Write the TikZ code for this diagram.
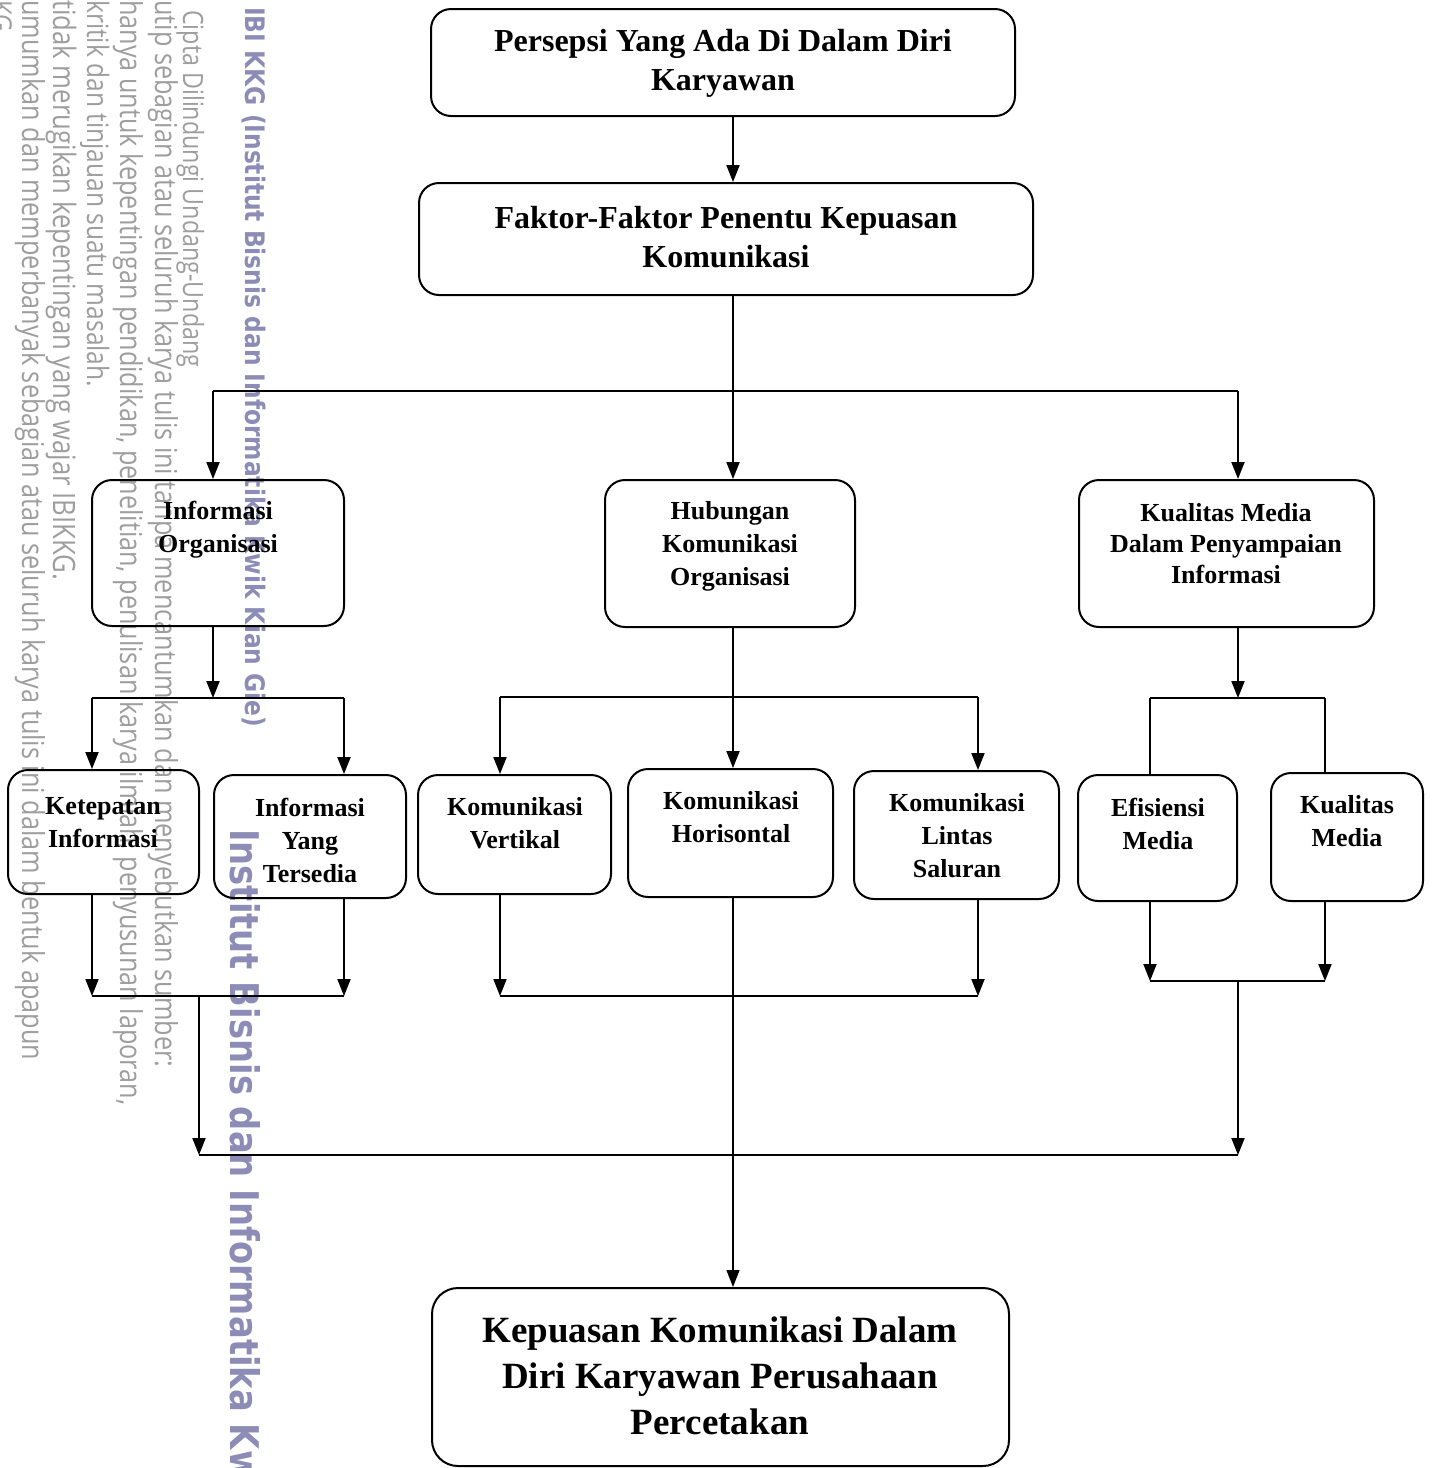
\documentclass[tikz,border=0pt]{standalone}
\usepackage{fontspec}
\setmainfont{Liberation Serif}
\newfontfamily\wmfont{Open Sans}
\newfontfamily\wmbfont{DejaVu Sans}
\usetikzlibrary{arrows.meta,calc}
\definecolor{wmgray}{RGB}{158,158,158}
\definecolor{wmblue}{RGB}{140,140,182}
\begin{document}
\begin{tikzpicture}[x=1pt,y=-1pt,
  box/.style={draw, line width=2pt, rounded corners=20pt, inner sep=0pt},
  lblA/.style={align=center, inner sep=0pt, font=\bfseries\fontsize{32}{39}\selectfont},
  lblB/.style={align=center, inner sep=0pt, font=\bfseries\fontsize{26}{33}\selectfont},
  lblC/.style={align=center, inner sep=0pt, font=\bfseries\fontsize{26}{31}\selectfont},
  lblD/.style={align=center, inner sep=0pt, font=\bfseries\fontsize{37}{46}\selectfont},
  conn/.style={line width=2pt},
  arr/.style={conn, -{Triangle[length=17pt,width=13pt]}},
  thinarr/.style={line width=1.2pt, -{Triangle[length=17pt,width=13pt]}},
  wm/.style={rotate=-90, anchor=base west, inner sep=0pt, text=wmgray, font=\wmfont\fontsize{24}{28}\selectfont},
  wmb/.style={rotate=-90, anchor=base west, inner sep=0pt, text=wmblue, font=\wmbfont\bfseries\fontsize{24}{28}\selectfont}
]
\useasboundingbox (0,0) rectangle (1432,1468);
\fill[white] (0,0) rectangle (1432,1468);
\clip (0,0) rectangle (1432,1468);

% watermark
\node[wmb] (w0) at (245,7) {\scalebox{1}[1.15]{\resizebox{720pt}{!}{IBI KKG (Institut Bisnis dan Informatika Kwik Kian Gie)}}};
\node[wmb] (w00) at (230,829) {\scalebox{1}[1.17]{\resizebox{652pt}{!}{Institut Bisnis dan Informatika Kw}}};
\node[wm] (w1) at (183,10) {\scalebox{1}[1.2]{\resizebox{357pt}{!}{Cipta Dilindungi Undang-Undang}}};
\node[wm] (w2) at (155,0) {\scalebox{1}[1.2]{\resizebox{1067pt}{!}{utip sebagian atau seluruh karya tulis ini tanpa mencantumkan dan menyebutkan sumber:}}};
\node[wm] (w3) at (120,0) {\scalebox{1}[1.2]{\resizebox{1105pt}{!}{hanya untuk kepentingan pendidikan, penelitian, penulisan karya ilmiah, penyusunan laporan,}}};
\node[wm] (w4) at (87,0) {\scalebox{1}[1.2]{\resizebox{387pt}{!}{kritik dan tinjauan suatu masalah.}}};
\node[wm] (w5) at (53,0) {\scalebox{1}[1.2]{\resizebox{580pt}{!}{tidak merugikan kepentingan yang wajar IBIKKG.}}};
\node[wm] (w6) at (22,0) {\scalebox{1}[1.2]{\resizebox{1060pt}{!}{umumkan dan memperbanyak sebagian atau seluruh karya tulis ini dalam bentuk apapun}}};
\node[wm] (w7) at (-9,0) {\scalebox{1}[1.2]{KG}};

% boxes
\node[box, minimum width=584pt, minimum height=107pt] (b1) at (723,62.5) {};
\node[box, minimum width=614pt, minimum height=112pt] (b2) at (726,239) {};
\node[box, minimum width=252pt, minimum height=146pt] (b3) at (218,553) {};
\node[box, minimum width=250pt, minimum height=147pt] (b4) at (730,553.5) {};
\node[box, minimum width=295pt, minimum height=147pt] (b5) at (1226.5,553.5) {};
\node[box, minimum width=191pt, minimum height=124pt] (b6) at (103.5,832) {};
\node[box, minimum width=192pt, minimum height=123pt] (b7) at (310,836.5) {};
\node[box, minimum width=193pt, minimum height=119pt] (b8) at (514.5,834.5) {};
\node[box, minimum width=205pt, minimum height=128pt] (b9) at (730.5,833) {};
\node[box, minimum width=205pt, minimum height=128pt] (b10) at (956.5,835) {};
\node[box, minimum width=159pt, minimum height=126pt] (b11) at (1157.5,838) {};
\node[box, minimum width=152pt, minimum height=128pt] (b12) at (1347,837) {};
\node[box, rounded corners=26pt, minimum width=577pt, minimum height=178pt] (b13) at (720.5,1377) {};

% labels
\node[lblA] (t1) at (723,63.5) {Persepsi Yang Ada Di Dalam Diri\\Karyawan};
\node[lblA] (t2) at (726,237.5) {Faktor-Faktor Penentu Kepuasan\\Komunikasi};
\node[lblB] (t3) at (218,529.5) {Informasi\\Organisasi};
\node[lblB] (t4) at (730,546) {Hubungan\\Komunikasi\\Organisasi};
\node[lblC] (t5) at (1226,544) {Kualitas Media\\Dalam Penyampaian\\Informasi};
\node[lblB] (t6) at (103,822.5) {Ketepatan\\Informasi};
\node[lblB] (t7) at (310,840) {Informasi\\Yang\\Tersedia};
\node[lblB] (t8) at (515,823.5) {Komunikasi\\Vertikal};
\node[lblB] (t9) at (731,817.5) {Komunikasi\\Horisontal};
\node[lblB] (t10) at (957,836) {Komunikasi\\Lintas\\Saluran};
\node[lblB] (t11) at (1158,823.5) {Efisiensi\\Media};
\node[lblB] (t12) at (1347,821.5) {Kualitas\\Media};
\node[lblD] (t13) at (720,1376) {Kepuasan Komunikasi Dalam\\Diri Karyawan Perusahaan\\Percetakan};

% junction coordinates
\coordinate (j1) at (733,391);
\coordinate (j1l) at (213,391);
\coordinate (j1r) at (1238,391);
\coordinate (j2) at (213,698);
\coordinate (j2l) at (92,698);
\coordinate (j2r) at (344,698);
\coordinate (j3) at (733,697);
\coordinate (j3l) at (500,697);
\coordinate (j3r) at (978,697);
\coordinate (j4) at (1238,698);
\coordinate (j4l) at (1150,698);
\coordinate (j4r) at (1325,698);
\coordinate (k1l) at (92,996);
\coordinate (k1r) at (344,996);
\coordinate (k1m) at (199,996);
\coordinate (k2l) at (500,996);
\coordinate (k2r) at (978,996);
\coordinate (k3l) at (1150,981);
\coordinate (k3r) at (1325,981);
\coordinate (k3m) at (1238,981);
\coordinate (m1) at (199,1155);
\coordinate (m2) at (1238,1155);

% level 1
\draw[arr] (b1.south -| j1) -- (b2.north -| j1);
\draw[conn] (b2.south -| j1) -- (j1);
\draw[conn] (j1l) -- (j1r);
\draw[arr] (j1) -- (b4.north -| j1);
\draw[arr] (j1l) -- (b3.north -| j1l);
\draw[arr] (j1r) -- (b5.north -| j1r);

% level 2
\draw[arr] (b3.south -| j2) -- (j2);
\draw[conn] (j2l) -- (j2r);
\draw[arr] (j2l) -- (b6.north -| j2l);
\draw[arr] (j2r) -- (b7.north -| j2r);

\draw[conn] (b4.south -| j3) -- (j3);
\draw[conn] (j3l) -- (j3r);
\draw[arr] (j3) -- (b9.north -| j3);
\draw[arr] (j3l) -- (b8.north -| j3l);
\draw[arr] (j3r) -- (b10.north -| j3r);

\draw[arr] (b5.south -| j4) -- (j4);
\draw[conn] (j4l) -- (j4r);
\draw[conn] (j4l) -- (b11.north -| j4l);
\draw[conn] (j4r) -- (b12.north -| j4r);

% level 3
\draw[arr] (b6.south -| k1l) -- (k1l);
\draw[arr] (b7.south -| k1r) -- (k1r);
\draw[conn] (k1l) -- (k1r);
\draw[arr] (b8.south -| k2l) -- (k2l);
\draw[arr] (b10.south -| k2r) -- (k2r);
\draw[conn] (k2l) -- (k2r);
\draw[arr] (b11.south -| k3l) -- (k3l);
\draw[arr] (b12.south -| k3r) -- (k3r);
\draw[conn] (k3l) -- (k3r);
\draw[arr] (k1m) -- (m1);
\draw[arr] (k3m) -- (m2);
\draw[conn] (m1) -- (m2);
\draw[thinarr] (b9.south -| j3) -- (b13.north -| j3);
\end{tikzpicture}
\end{document}
